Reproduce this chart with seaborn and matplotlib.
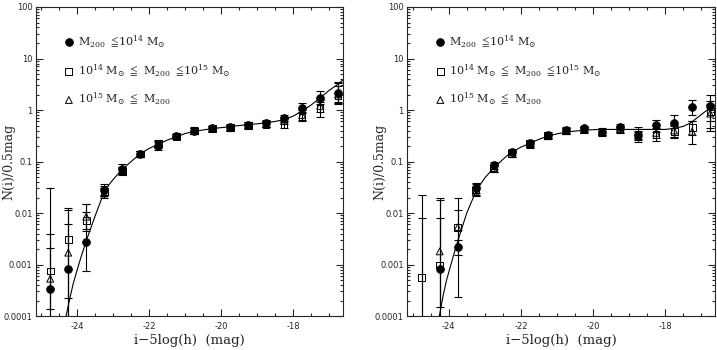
import numpy as np
import matplotlib
matplotlib.use("Agg")
import matplotlib.pyplot as plt
import seaborn as sns
from matplotlib.ticker import MultipleLocator, FixedLocator, FuncFormatter, LogLocator, NullFormatter

# magnitude bins (0.5 mag)
mag = np.array([-24.75, -24.25, -23.75, -23.25, -22.75, -22.25, -21.75, -21.25, -20.75,
                -20.25, -19.75, -19.25, -18.75, -18.25, -17.75, -17.25, -16.75])
y_ticks = [1e-4, 1e-3, 1e-2, 1e-1, 1, 10, 100]
x_ticks = [-24, -22, -20, -18]

# ---- left panel ----
L_circ = [3.3e-4, 8.1e-4, 2.8e-3, 0.028, 0.072, 0.14, 0.20, 0.31, 0.40, 0.44, 0.47, 0.52, 0.55, 0.69, 1.08, 1.69, 2.1]
L_circ_lo = [1e-6, 1e-6, 7.4e-4, 0.022, 0.060, 0.125, 0.17, 0.28, 0.35, 0.39, 0.41, 0.45, 0.47, 0.59, 0.86, 1.30, 1.35]
L_circ_hi = [0.030, 0.0124, 0.0107, 0.036, 0.088, 0.16, 0.24, 0.34, 0.46, 0.49, 0.53, 0.59, 0.64, 0.80, 1.35, 2.30, 3.30]

L_sq = [7.5e-4, 3.1e-3, 7.1e-3, 0.026, 0.065, 0.14, 0.22, 0.31, 0.39, 0.43, 0.45, 0.50, 0.53, 0.52, 0.72, 1.08, 1.9]
L_sq_lo = [1.4e-4, 1e-6, 4.5e-3, 0.021, 0.055, 0.12, 0.19, 0.28, 0.34, 0.37, 0.39, 0.43, 0.46, 0.45, 0.60, 0.74, 1.30]
L_sq_hi = [4.0e-3, 0.0113, 0.0148, 0.034, 0.078, 0.16, 0.26, 0.35, 0.44, 0.49, 0.52, 0.57, 0.61, 0.62, 0.93, 1.40, 3.55]

L_tri = [5.3e-4, 1.7e-3, 8.5e-3, 0.024, 0.068, 0.14, 0.21, 0.31, 0.40, 0.44, 0.46, 0.51, 0.54, 0.62, 0.80, 1.20, 2.0]
L_tri_lo = [1e-6, 2.2e-4, 4.8e-3, 0.020, 0.058, 0.125, 0.18, 0.28, 0.35, 0.39, 0.40, 0.44, 0.47, 0.53, 0.65, 0.90, 1.40]
L_tri_hi = [2.1e-3, 6.0e-3, 0.0148, 0.030, 0.080, 0.16, 0.245, 0.34, 0.45, 0.50, 0.52, 0.58, 0.62, 0.72, 1.00, 1.60, 2.90]

# fitted curve
L_fit_x = [-24.31, -24.2, -24.11, -23.92, -23.74, -23.51, -23.23, -23.0, -22.77, -22.5, -22.26, -22.0,
           -21.75, -21.5, -21.25, -21.0, -20.75, -20.5, -20.25, -20.0, -19.75, -19.5, -19.25, -19.0,
           -18.75, -18.5, -18.25, -18.0, -17.72, -17.5, -17.26, -17.0, -16.8, -16.62]
L_fit_y = [1.0e-4, 2.3e-4, 4.3e-4, 1.23e-3, 3.0e-3, 8.5e-3, 0.028, 0.045, 0.068, 0.10, 0.14, 0.18,
           0.215, 0.26, 0.30, 0.35, 0.385, 0.41, 0.435, 0.455, 0.475, 0.50, 0.52, 0.54,
           0.565, 0.60, 0.65, 0.76, 0.98, 1.25, 1.69, 2.4, 3.0, 3.8]

# ---- right panel ----
R_circ = [6e-5, 8.2e-4, 2.2e-3, 0.031, 0.085, 0.155, 0.23, 0.33, 0.41, 0.44, 0.38, 0.47, 0.33, 0.51, 0.55, 1.13, 1.2]
R_circ_lo = [1e-6, 1e-6, 2.3e-4, 0.024, 0.072, 0.135, 0.20, 0.29, 0.36, 0.39, 0.33, 0.41, 0.26, 0.38, 0.30, 0.80, 0.39]
R_circ_hi = [0.0081, 0.020, 0.0046, 0.038, 0.100, 0.175, 0.26, 0.37, 0.46, 0.49, 0.44, 0.54, 0.47, 0.64, 0.80, 1.56, 1.95]

R_sq = [5.7e-4, 9.8e-4, 5.3e-3, 0.028, 0.075, 0.145, 0.22, 0.32, 0.40, 0.42, 0.37, 0.42, 0.30, 0.33, 0.38, 0.46, 0.95]
R_sq_lo = [1e-6, 1e-6, 1.5e-3, 0.022, 0.064, 0.125, 0.19, 0.28, 0.35, 0.37, 0.32, 0.36, 0.24, 0.25, 0.28, 0.33, 0.60]
R_sq_hi = [0.022, 0.018, 0.0196, 0.036, 0.088, 0.165, 0.25, 0.36, 0.45, 0.47, 0.42, 0.48, 0.37, 0.42, 0.50, 0.62, 1.50]

R_tri = [np.nan, 1.8e-3, 5.3e-3, 0.026, 0.072, 0.14, 0.215, 0.31, 0.39, 0.41, 0.38, 0.43, 0.33, 0.36, 0.40, 0.38, 0.85]
R_tri_lo = [np.nan, 1.5e-4, 3.0e-3, 0.021, 0.062, 0.12, 0.185, 0.27, 0.34, 0.36, 0.33, 0.37, 0.27, 0.28, 0.30, 0.22, 0.45]
R_tri_hi = [np.nan, 7.9e-3, 0.0117, 0.033, 0.085, 0.16, 0.245, 0.35, 0.44, 0.46, 0.43, 0.49, 0.40, 0.45, 0.52, 0.60, 1.30]

R_fit_x = [-24.26, -24.15, -24.06, -23.88, -23.74, -23.5, -23.23, -23.0, -22.76, -22.5, -22.3, -22.0,
           -21.75, -21.5, -21.25, -21.0, -20.75, -20.5, -20.25, -20.0, -19.5, -19.0, -18.5, -18.0,
           -17.75, -17.5, -17.3, -17.07, -16.9, -16.79, -16.62]
R_fit_y = [1.0e-4, 2.6e-4, 5.0e-4, 1.4e-3, 3.0e-3, 0.01, 0.028, 0.048, 0.074, 0.11, 0.145, 0.19,
           0.225, 0.27, 0.31, 0.345, 0.37, 0.39, 0.405, 0.415, 0.42, 0.42, 0.42, 0.42,
           0.44, 0.48, 0.56, 0.74, 0.92, 1.05, 1.2]

labels = [r"$\mathrm{M_{200}}\ \leqq\!10^{14}\ \mathrm{M_{\odot}}$",
          r"$10^{14}\ \mathrm{M_{\odot}}\ \leqq\ \mathrm{M_{200}}\ \leqq\!10^{15}\ \mathrm{M_{\odot}}$",
          r"$10^{15}\ \mathrm{M_{\odot}}\ \leqq\ \mathrm{M_{200}}$"]

sns.set_style("ticks")
plt.rcParams['font.family'] = ['DejaVu Sans']
plt.rcParams['mathtext.fontset'] = 'dejavuserif'
plt.rcParams['axes.unicode_minus'] = False

fig = plt.figure(figsize=(7.17, 3.5), dpi=100)
ax1 = fig.add_axes([0.050, 0.097, 0.428, 0.883])
ax2 = fig.add_axes([0.568, 0.097, 0.429, 0.883])

panels = [
    (ax1, (L_circ, L_circ_lo, L_circ_hi), (L_sq, L_sq_lo, L_sq_hi), (L_tri, L_tri_lo, L_tri_hi), L_fit_x, L_fit_y),
    (ax2, (R_circ, R_circ_lo, R_circ_hi), (R_sq, R_sq_lo, R_sq_hi), (R_tri, R_tri_lo, R_tri_hi), R_fit_x, R_fit_y),
]

for ax, circ, sq, tri, fx, fy in panels:
    for (y, lo, hi), mk, lab, z in [(circ, 'o', labels[0], 5), (sq, 's', labels[1], 4), (tri, '^', labels[2], 4)]:
        y = np.array(y, float)
        lo = np.array(lo, float)
        hi = np.array(hi, float)
        ax.errorbar(mag, y, yerr=[y - lo, hi - y], fmt='none', ecolor='black',
                    elinewidth=0.8, capsize=3, capthick=0.8, zorder=2)
        if mk == 'o':
            sns.scatterplot(x=mag, y=y, marker='o', s=32, color='black', edgecolor='black',
                            linewidth=0.5, ax=ax, label=lab, zorder=z)
        else:
            sns.scatterplot(x=mag, y=y, marker=mk, s=24, facecolor='none', edgecolor='black',
                            linewidth=0.7, ax=ax, label=lab, zorder=z)
    sns.lineplot(x=fx, y=fy, sort=False, color='black', linewidth=0.8, ax=ax, zorder=3)

    ax.set_yscale('log')
    ax.set_ylim(1e-4, 100)
    ax.set_xlim(-25.15, -16.62)
    ax.xaxis.set_major_locator(FixedLocator(x_ticks))
    ax.xaxis.set_minor_locator(MultipleLocator(0.5))
    ax.yaxis.set_major_locator(FixedLocator(y_ticks))
    ax.yaxis.set_minor_locator(LogLocator(base=10, subs=np.arange(2, 10), numticks=20))
    ax.yaxis.set_minor_formatter(NullFormatter())
    ax.yaxis.set_major_formatter(FuncFormatter(lambda v, p: "%g" % v))
    ax.tick_params(which='both', direction='in', top=True, right=True, width=0.8, labelsize=6, pad=2.5)
    ax.tick_params(axis='x', which='both', pad=4)
    ax.tick_params(which='major', length=5)
    ax.tick_params(which='minor', length=2.5)
    for s in ax.spines.values():
        s.set_linewidth(0.8)
    ax.set_xlabel("i−5log(h)  (mag)", family='DejaVu Serif', fontsize=9.5)
    ax.xaxis.set_label_coords(0.5, -0.057)
    ax.xaxis.label.set_va('top')
    ax.set_ylabel("N(i)/0.5mag", family='DejaVu Serif', fontsize=9)
    ax.yaxis.set_label_coords(-0.068, 0.5)
    ax.legend(loc='upper left', bbox_to_anchor=(0.075, 0.93), frameon=False, fontsize=8,
              handletextpad=0.3, labelspacing=1.1, handlelength=1.0, borderaxespad=0)

fig.savefig("out.png", dpi=100)
